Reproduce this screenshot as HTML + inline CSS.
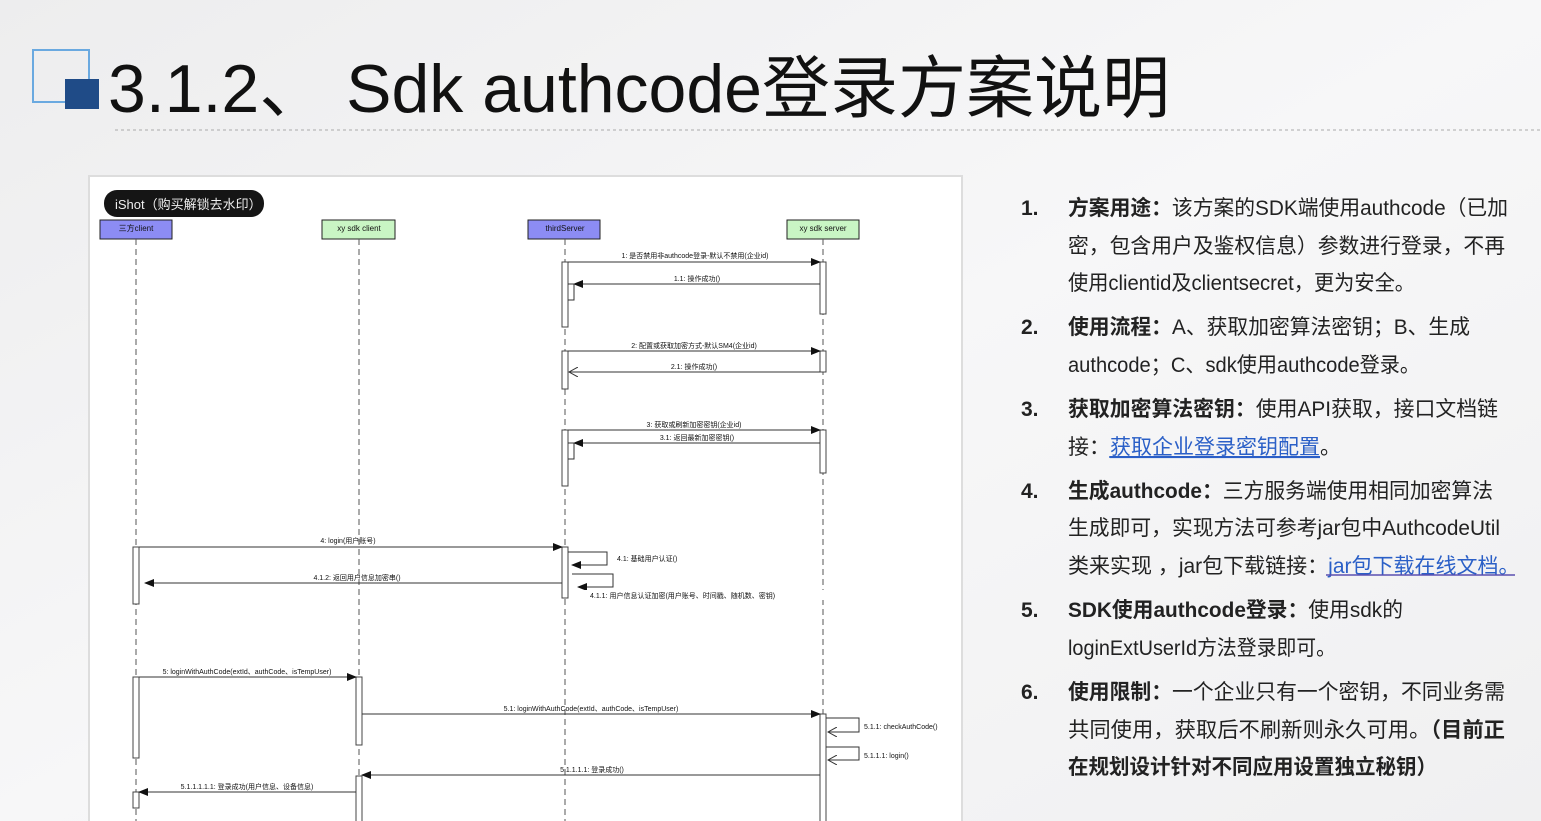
<!DOCTYPE html>
<html><head><meta charset="utf-8"><style>
html,body{margin:0;padding:0;width:1541px;height:821px;overflow:hidden;background:#f4f4f5;}
svg{display:block}
</style></head><body>
<svg width="1541" height="821" viewBox="0 0 1541 821" xmlns="http://www.w3.org/2000/svg" font-family="Liberation Sans, Noto Sans CJK SC, sans-serif">
<defs>
<linearGradient id="bg" x1="0" y1="0" x2="1" y2="1"><stop offset="0" stop-color="#ededee"/><stop offset="0.5" stop-color="#f7f7f8"/><stop offset="1" stop-color="#f0f0f1"/></linearGradient>
<marker id="af" markerWidth="10" markerHeight="8" refX="9" refY="4" orient="auto" markerUnits="userSpaceOnUse"><path d="M0,0 L10,4 L0,8 Z" fill="#111"/></marker>
<marker id="ao" markerWidth="10" markerHeight="10" refX="9" refY="5" orient="auto" markerUnits="userSpaceOnUse"><path d="M0,0 L9,5 L0,10" fill="none" stroke="#333" stroke-width="1"/></marker>
</defs>
<rect width="1541" height="821" fill="url(#bg)"/>
<!-- title -->
<rect x="33" y="50" width="56" height="52" fill="none" stroke="#6aa9e0" stroke-width="2"/>
<rect x="65" y="79" width="34" height="30" fill="#1f4b87"/>
<text x="108" y="112" font-size="68" fill="#111" font-family="Liberation Sans, Noto Sans CJK SC, sans-serif" textLength="1062" lengthAdjust="spacingAndGlyphs">3.1.2、 Sdk authcode登录方案说明</text>
<line x1="115" y1="130" x2="1541" y2="130" stroke="#aaa" stroke-width="1" stroke-dasharray="3,3"/>
<!-- card -->
<rect x="88" y="175" width="875" height="650" fill="#ddd"/>
<rect x="90" y="177" width="871" height="650" fill="#fff"/>
<!-- iShot badge -->
<rect x="104" y="190" width="160" height="27" rx="13" fill="#151515"/>
<text x="115" y="209" font-size="13" fill="#eee">iShot（购买解锁去水印）</text>
<!-- lifeline heads -->
<g font-size="8" text-anchor="middle" fill="#111">
<rect x="100" y="220" width="72" height="19" fill="#8c8cf4" stroke="#222"/><text x="136" y="231">三方client</text>
<rect x="322" y="220" width="73" height="19" fill="#c9f5c4" stroke="#222"/><text x="359" y="231">xy sdk client</text>
<rect x="528" y="220" width="72" height="19" fill="#8c8cf4" stroke="#222"/><text x="565" y="231">thirdServer</text>
<rect x="787" y="220" width="72" height="19" fill="#c9f5c4" stroke="#222"/><text x="823" y="231">xy sdk server</text>
</g>
<g stroke="#555" stroke-width="1" stroke-dasharray="6,4">
<line x1="136" y1="239" x2="136" y2="821"/><line x1="359" y1="239" x2="359" y2="821"/>
<line x1="565" y1="239" x2="565" y2="821"/><line x1="823" y1="239" x2="823" y2="821"/>
</g>
<!-- activations -->
<g fill="#fff" stroke="#444" stroke-width="1">
<rect x="562" y="262" width="6" height="65"/><rect x="820" y="262" width="6" height="52"/>
<rect x="562" y="351" width="6" height="38"/><rect x="820" y="351" width="6" height="21"/>
<rect x="562" y="430" width="6" height="56"/><rect x="820" y="430" width="6" height="43"/>
<rect x="133" y="547" width="6" height="57"/><rect x="562" y="547" width="6" height="51"/>
<rect x="133" y="677" width="6" height="81"/><rect x="356" y="677" width="6" height="68"/>
<rect x="820" y="714" width="6" height="110"/><rect x="356" y="776" width="6" height="50"/>
<rect x="133" y="792" width="6" height="16"/>
</g>
<g stroke="#333" stroke-width="1" fill="none">
<line x1="568" y1="262" x2="820" y2="262" marker-end="url(#af)"/>
<line x1="820" y1="284" x2="574" y2="284" marker-end="url(#af)"/>
<path d="M568,284 H574 V300 H568"/>
<line x1="568" y1="351" x2="820" y2="351" marker-end="url(#af)"/>
<line x1="820" y1="372" x2="569" y2="372" marker-end="url(#ao)"/>
<line x1="568" y1="430" x2="820" y2="430" marker-end="url(#af)"/>
<line x1="820" y1="443" x2="574" y2="443" marker-end="url(#af)"/>
<path d="M568,443 H574 V459 H568"/>
<line x1="139" y1="547" x2="562" y2="547" marker-end="url(#af)"/>
<path d="M568,552 H607 V565 H572" marker-end="url(#af)"/>
<line x1="562" y1="583" x2="145" y2="583" marker-end="url(#af)"/>
<path d="M572,574 H613 V587 H578" marker-end="url(#af)"/>
<line x1="139" y1="677" x2="356" y2="677" marker-end="url(#af)"/>
<line x1="362" y1="714" x2="820" y2="714" marker-end="url(#af)"/>
<path d="M826,718 H859 V732 H828" marker-end="url(#ao)"/>
<path d="M826,747 H859 V760 H828" marker-end="url(#ao)"/>
<line x1="820" y1="775" x2="362" y2="775" marker-end="url(#af)"/>
<line x1="356" y1="792" x2="139" y2="792" marker-end="url(#af)"/>
</g>
<rect x="570" y="590" width="260" height="10" fill="#fff"/>
<g font-size="7" fill="#111" text-anchor="middle">
<text x="695" y="258">1: 是否禁用非authcode登录-默认不禁用(企业id)</text>
<text x="697" y="281">1.1: 操作成功()</text>
<text x="694" y="348">2: 配置或获取加密方式-默认SM4(企业id)</text>
<text x="694" y="369">2.1: 操作成功()</text>
<text x="694" y="427">3: 获取或刷新加密密钥(企业id)</text>
<text x="697" y="440">3.1: 返回最新加密密钥()</text>
<text x="348" y="543">4: login(用户账号)</text>
<text x="357" y="580">4.1.2: 返回用户信息加密串()</text>
<text x="247" y="674">5: loginWithAuthCode(extId、authCode、isTempUser)</text>
<text x="591" y="711">5.1: loginWithAuthCode(extId、authCode、isTempUser)</text>
<text x="592" y="772">5.1.1.1.1: 登录成功()</text>
<text x="247" y="789">5.1.1.1.1.1: 登录成功(用户信息、设备信息)</text>
</g>
<g font-size="7" fill="#111">
<text x="617" y="561">4.1: 基础用户认证()</text>
<text x="590" y="598">4.1.1: 用户信息认证加密(用户账号、时间戳、随机数、密钥)</text>
<text x="864" y="729">5.1.1: checkAuthCode()</text>
<text x="864" y="758">5.1.1.1: login()</text>
</g>
<!-- right text -->
<g font-size="21" fill="#222" font-family="Liberation Sans, Noto Sans CJK SC, sans-serif">
<g font-weight="bold">
<text x="1021" y="215">1.</text><text x="1021" y="334">2.</text><text x="1021" y="416">3.</text>
<text x="1021" y="498">4.</text><text x="1021" y="617">5.</text><text x="1021" y="699">6.</text>
</g>
<text x="1068" y="215" textLength="440" lengthAdjust="spacingAndGlyphs"><tspan font-weight="bold">方案用途：</tspan>该方案的SDK端使用authcode（已加</text>
<text x="1068" y="253" textLength="437" lengthAdjust="spacingAndGlyphs">密，包含用户及鉴权信息）参数进行登录，不再</text>
<text x="1068" y="290" textLength="347" lengthAdjust="spacingAndGlyphs">使用clientid及clientsecret，更为安全。</text>
<text x="1068" y="334" textLength="402" lengthAdjust="spacingAndGlyphs"><tspan font-weight="bold">使用流程：</tspan>A、获取加密算法密钥；B、生成</text>
<text x="1068" y="372" textLength="352" lengthAdjust="spacingAndGlyphs">authcode；C、sdk使用authcode登录。</text>
<text x="1068" y="416" textLength="430" lengthAdjust="spacingAndGlyphs"><tspan font-weight="bold">获取加密算法密钥：</tspan>使用API获取，接口文档链</text>
<text x="1068" y="454">接：<tspan fill="#2a5fc7" text-decoration="underline">获取企业登录密钥配置</tspan>。</text>
<line x1="1109" y1="457" x2="1318" y2="457" stroke="#2a5fc7" stroke-width="1.5"/>
<text x="1068" y="498" textLength="425" lengthAdjust="spacingAndGlyphs"><tspan font-weight="bold">生成authcode：</tspan>三方服务端使用相同加密算法</text>
<text x="1068" y="535" textLength="432" lengthAdjust="spacingAndGlyphs">生成即可，实现方法可参考jar包中AuthcodeUtil</text>
<text x="1068" y="573">类来实现 ，jar包下载链接：<tspan fill="#2a5fc7">jar包下载在线文档。</tspan></text>
<line x1="1326" y1="575" x2="1515" y2="575" stroke="#5b4fb0" stroke-width="1.5"/>
<text x="1068" y="617" textLength="335" lengthAdjust="spacingAndGlyphs"><tspan font-weight="bold">SDK使用authcode登录：</tspan>使用sdk的</text>
<text x="1068" y="655" textLength="268" lengthAdjust="spacingAndGlyphs">loginExtUserId方法登录即可。</text>
<text x="1068" y="699" textLength="437" lengthAdjust="spacingAndGlyphs"><tspan font-weight="bold">使用限制：</tspan>一个企业只有一个密钥，不同业务需</text>
<text x="1068" y="737" textLength="437" lengthAdjust="spacingAndGlyphs">共同使用，获取后不刷新则永久可用。<tspan font-weight="bold">（目前正</tspan></text>
<text x="1068" y="774" font-weight="bold" textLength="369" lengthAdjust="spacingAndGlyphs">在规划设计针对不同应用设置独立秘钥）</text>
</g>
</svg>
</body></html>
